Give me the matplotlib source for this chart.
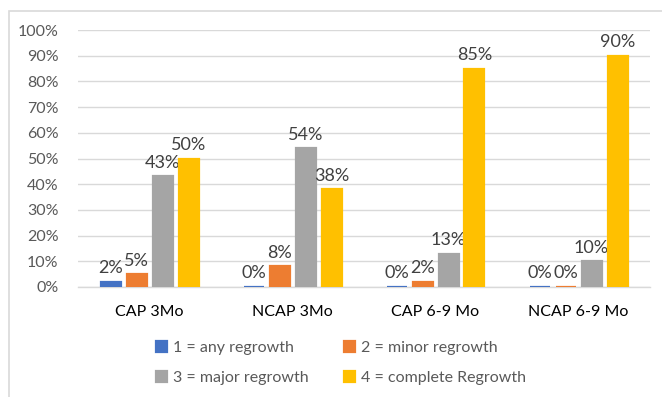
import matplotlib
matplotlib.use("Agg")
import matplotlib.pyplot as plt
from matplotlib.patches import Rectangle
import numpy as np

categories = ["CAP 3Mo", "NCAP 3Mo", "CAP 6-9 Mo", "NCAP 6-9 Mo"]
series_names = ["1 = any regrowth", "2 = minor regrowth",
                "3 = major regrowth", "4 = complete Regrowth"]
any_regrowth = [2, 0, 0, 0]
minor_regrowth = [5, 8, 2, 0]
major_regrowth = [43, 54, 13, 10]
complete_regrowth = [50, 38, 85, 90]
y_ticks = [0, 10, 20, 30, 40, 50, 60, 70, 80, 90, 100]

series = [any_regrowth, minor_regrowth, major_regrowth, complete_regrowth]
colors = ["#4472C4", "#ED7D31", "#A5A5A5", "#FFC000"]

plt.rcParams["font.family"] = ["Lato", "DejaVu Sans"]

W, H = 662, 397
fig = plt.figure(figsize=(W / 100, H / 100), dpi=100)

# chart frame
fig.patches.append(Rectangle((9 / W, -0.1), 1.2, (H - 11) / H + 0.1,
                             transform=fig.transFigure, fill=False,
                             edgecolor="#D9D9D9", linewidth=1.2))

ax = fig.add_axes([78 / W, (H - 287) / H, (650 - 78) / W, (287 - 30) / H])

x = np.arange(len(categories))
step = 26 / 143
width = 20 / 143
offsets = (np.arange(4) - 1.5) * step

bars_all = []
for k, (vals, col, name) in enumerate(zip(series, colors, series_names)):
    bars = ax.bar(x + offsets[k], vals, width=width, color=col,
                  edgecolor=col, linewidth=1.6, label=name, zorder=3)
    bars_all.append(bars)
    for xi, v in zip(x + offsets[k], vals):
        ax.annotate(f"{v:.0f}%", (xi, v), xytext=(0, 4),
                    textcoords="offset points", ha="center", va="bottom",
                    fontsize=13, color="#404040")

ax.set_xlim(-0.5, len(categories) - 0.5)
ax.set_ylim(0, 100)
ax.set_yticks(y_ticks)
ax.set_yticklabels([f"{t}%" for t in y_ticks], fontsize=11.5, color="#595959")
ax.set_xticks(x)
ax.set_xticklabels(categories, fontsize=11.5, color="#000000")
ax.tick_params(axis="both", length=0)
ax.tick_params(axis="y", pad=14)
ax.tick_params(axis="x", pad=13)
ax.grid(axis="y", color="#D9D9D9", linewidth=1.0, zorder=0)
for s in ["top", "right", "left"]:
    ax.spines[s].set_visible(False)
ax.spines["bottom"].set_color("#D9D9D9")
ax.spines["bottom"].set_linewidth(1.0)

handles = [bars_all[0], bars_all[2], bars_all[1], bars_all[3]]
labels = [series_names[0], series_names[2], series_names[1], series_names[3]]
fig.legend(handles, labels, ncol=2, loc="center",
           bbox_to_anchor=(341 / W, (H - 363) / H), frameon=False,
           fontsize=11.5, labelcolor="#595959", handlelength=0.7,
           handleheight=0.7, handletextpad=0.4, columnspacing=2.2,
           labelspacing=1.0)

fig.savefig("out.png", dpi=100)
